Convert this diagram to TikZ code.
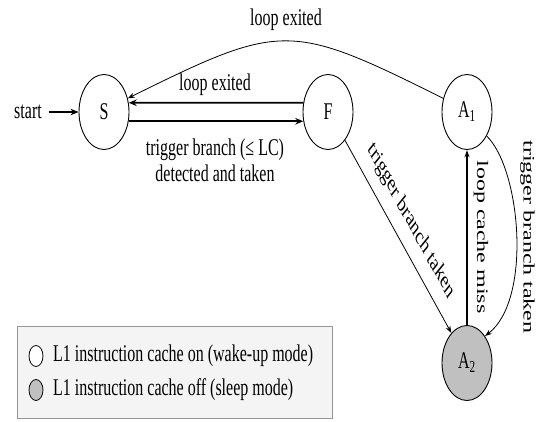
\documentclass[tikz,border=0pt]{standalone}
\usepackage{fontspec}
\setmainfont{Liberation Serif}
\usetikzlibrary{arrows.meta}
\definecolor{sleepgray}{RGB}{192,192,192}
\definecolor{boxfill}{RGB}{244,244,244}
\definecolor{boxline}{RGB}{150,150,150}
\begin{document}
\begin{tikzpicture}[x=1pt,y=-0.666667pt,yscale=1.5,
  every node/.style={transform shape},
  state/.style={circle,draw,line width=0.9pt,minimum size=50pt,inner sep=0pt,
    font=\fontsize{16}{18}\selectfont},
  lbl/.style={font=\fontsize{16}{17.3}\selectfont,inner sep=0pt},
  thickarr/.style={line width=1.9pt,-{Stealth[length=8pt,width=6.5pt]}},
  midarr/.style={line width=1.3pt,-{Stealth[length=7pt,width=5pt]}},
  thinarr/.style={line width=0.8pt,-{Stealth[length=7pt,width=5pt]}},
  legcirc/.style={circle,draw,line width=0.8pt,minimum size=14pt,inner sep=0pt},
]
\useasboundingbox (0,0) rectangle (536,421);

% states
\node[state] (S) at (104,112) {S};
\node[state] (F) at (328,112) {F};
\node[state] (A1) at (467,112) {A\textsubscript{1}};
\node[state,fill=sleepgray] (A2) at (467,363) {A\textsubscript{2}};
\node[lbl] (start) at (28,112) {start};

% connectors
\draw[thickarr] ([xshift=7pt]start.east) -- (S.west);
\draw[thickarr] (F.166) -- (S.14);
\draw[thickarr] (S.-14) -- (F.194);
\draw[thinarr] (A1.159) .. controls (290,22) and (282,22) .. (S.21);
\draw[thinarr] (F.-48) -- (A2.128);
\draw[midarr] (A2) -- (A1);
\draw[thinarr] (A1.-39) .. controls (521,170) and (532,300) .. (A2.45);

% labels
\node[lbl] (l1) at (286,20) {loop exited};
\node[lbl] (l2) at (215,85) {loop exited};
\node[lbl,align=center] (l3) at (215,160) {trigger branch (≤ LC)\\detected and taken};
\node[lbl,rotate=-50.7] (l4) at (411,221) {trigger branch taken};
\node[lbl,rotate=-90] (l5) at (481,237) {loop cache miss};
\node[lbl,rotate=-90] (l6) at (527.5,237) {trigger branch taken};

% legend
\draw[draw=boxline,fill=boxfill,line width=0.9pt] (17,326) rectangle (332,418);
\node[legcirc,fill=white] (c1) at (36,356) {};
\node[legcirc,fill=sleepgray] (c2) at (36,390) {};
\node[lbl,anchor=west] (t1) at (53,356) {L1 instruction cache on (wake-up mode)};
\node[lbl,anchor=west] (t2) at (53,390) {L1 instruction cache off (sleep mode)};
\end{tikzpicture}
\end{document}
